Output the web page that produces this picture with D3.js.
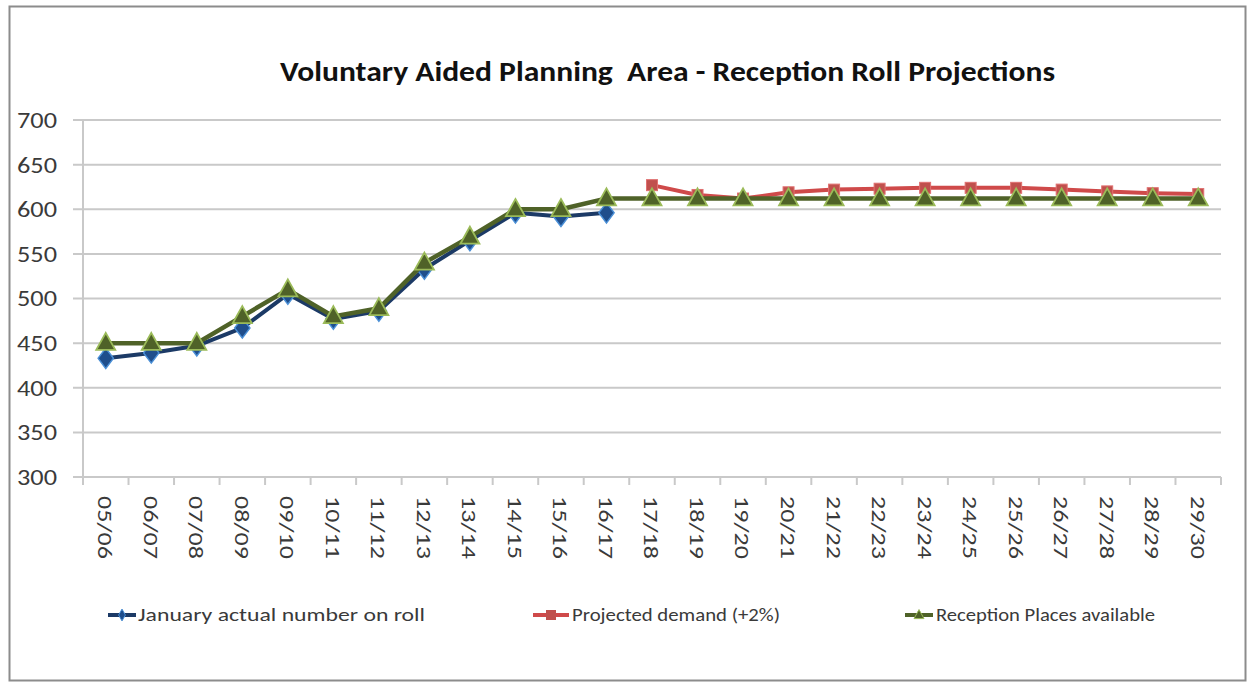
<!DOCTYPE html>
<html>
<head>
<meta charset="utf-8">
<script src="https://cdn.jsdelivr.net/npm/d3@7"></script>
<style>
  html, body { margin: 0; padding: 0; background: #fff; }
  svg { display: block; }
</style>
</head>
<body>
<svg id="chart" width="1251" height="688"></svg>
<script>
const categories = ["05/06","06/07","07/08","08/09","09/10","10/11","11/12","12/13","13/14","14/15","15/16","16/17","17/18","18/19","19/20","20/21","21/22","22/23","23/24","24/25","25/26","26/27","27/28","28/29","29/30"];
const actualRoll = [433,439,447,467,505,477,486,533,565,596,592,596,null,null,null,null,null,null,null,null,null,null,null,null,null];
const projectedDemand = [null,null,null,null,null,null,null,null,null,null,null,null,627,616,612,619,622,623,624,624,624,622,620,618,617];
const placesAvailable = [450,450,450,480,510,480,489,540,569,600,600,612,612,612,612,612,612,612,612,612,612,612,612,612,612];
const yTicks = [300,350,400,450,500,550,600,650,700];
const seriesNames = ["January actual number on roll","Projected demand (+2%)","Reception Places available"];
const titleText = "Voluntary Aided Planning  Area - Reception Roll Projections";

(function(){
const svg = d3.select("#chart");
const font = "Calibri, Carlito, 'Open Sans', Lato, sans-serif";

// outer border
svg.append("rect").attr("x",9.5).attr("y",6.5).attr("width",1236).attr("height",674)
  .attr("fill","#fff").attr("stroke","#8c8c8c").attr("stroke-width",2);

const pL = 83, pR = 1221, pT = 120, pB = 477;
const x = d3.scaleBand().domain(categories).range([pL, pR]);
const y = d3.scaleLinear().domain([300, 700]).range([pB, pT]);
const cx = d => x(d) + x.bandwidth()/2;

// gridlines
svg.append("g").selectAll("line").data(yTicks).join("line")
  .attr("x1", pL - 10).attr("x2", pR)
  .attr("y1", d => y(d)).attr("y2", d => y(d))
  .attr("stroke", "#c9c9c9").attr("stroke-width", 2);

// y axis line
svg.append("line").attr("x1",pL).attr("x2",pL).attr("y1",pT).attr("y2",pB)
  .attr("stroke","#c9c9c9").attr("stroke-width",2);

// y labels
svg.append("g").selectAll("text").data(yTicks).join("text")
  .attr("x", 57).attr("y", d => y(d)).attr("dy","0.36em")
  .attr("text-anchor","end").attr("font-family", font).attr("font-size", 22)
  .attr("textLength", 40).attr("lengthAdjust","spacingAndGlyphs")
  .attr("fill","#3a3a3a").text(d => d);

// x axis ticks
const xTickPos = categories.map(c => x(c)).concat([pR]);
svg.append("g").selectAll("line").data(xTickPos).join("line")
  .attr("x1", d => d).attr("x2", d => d).attr("y1", pB).attr("y2", pB + 8)
  .attr("stroke","#c9c9c9").attr("stroke-width",2);

// x labels rotated
svg.append("g").selectAll("text").data(categories).join("text")
  .attr("transform", d => `translate(${cx(d)},${pB + 19}) rotate(90)`)
  .attr("dy","0.36em").attr("text-anchor","start")
  .attr("font-family", font).attr("font-size", 21).attr("fill","#3a3a3a")
  .attr("textLength", 63).attr("lengthAdjust","spacingAndGlyphs")
  .text(d => d);

// title
svg.append("text").attr("x", 280).attr("y", 81).attr("text-anchor","start")
  .attr("font-family", font).attr("font-weight","bold").attr("font-size", 28)
  .attr("textLength", 775).attr("lengthAdjust","spacingAndGlyphs")
  .attr("fill","#111").attr("xml:space","preserve").style("white-space","pre").text(titleText);

const line = d3.line().defined(d => d.v != null).x(d => cx(d.c)).y(d => y(d.v));
const toPts = arr => categories.map((c,i) => ({c, v: arr[i]}));

// blue series
const blueCol = "#1c3a66";
svg.append("path").datum(toPts(actualRoll)).attr("d", line)
  .attr("fill","none").attr("stroke", blueCol).attr("stroke-width",4).attr("stroke-linejoin","round");
const diamond = d3.symbol().type(d3.symbolDiamond).size(120);
svg.append("g").selectAll("path").data(toPts(actualRoll).filter(d => d.v != null)).join("path")
  .attr("d", diamond).attr("transform", d => `translate(${cx(d.c)},${y(d.v)}) scale(1.3,1)`)
  .attr("fill", "#1f4e8c").attr("stroke","#4a8fd6").attr("stroke-width",1.2);

// red series
const redCol = "#cf4a4a";
svg.append("path").datum(toPts(projectedDemand)).attr("d", line)
  .attr("fill","none").attr("stroke", redCol).attr("stroke-width",4);
svg.append("g").selectAll("rect").data(toPts(projectedDemand).filter(d => d.v != null)).join("rect")
  .attr("x", d => cx(d.c) - 5.5).attr("y", d => y(d.v) - 5.5).attr("width",11).attr("height",11)
  .attr("fill", "#c0504d").attr("stroke","#e07070").attr("stroke-width",1);

// green series
const greenCol = "#4f6228";
svg.append("path").datum(toPts(placesAvailable)).attr("d", line)
  .attr("fill","none").attr("stroke", greenCol).attr("stroke-width",4.5);
const tri = (px, py, w, h) => `M${px},${py - h*0.6}L${px + w/2},${py + h*0.4}L${px - w/2},${py + h*0.4}Z`;
svg.append("g").selectAll("path").data(toPts(placesAvailable)).join("path")
  .attr("d", d => tri(cx(d.c), y(d.v), 19, 17))
  .attr("fill", greenCol).attr("stroke","#9bbb59").attr("stroke-width",1.8);

// legend
const legY = 615;
const legendItems = [
  {x1:108, x2:136, tx:138, w:287, col: blueCol, name: seriesNames[0], mk:"diamond"},
  {x1:533, x2:569, tx:572, w:208, col: redCol, name: seriesNames[1], mk:"square"},
  {x1:905, x2:933, tx:936, w:219, col: greenCol, name: seriesNames[2], mk:"tri"}
];
const lg = svg.append("g");
legendItems.forEach(it => {
  lg.append("line").attr("x1",it.x1).attr("x2",it.x2).attr("y1",legY).attr("y2",legY)
    .attr("stroke", it.col).attr("stroke-width",4);
  const mx = (it.x1 + it.x2)/2;
  if (it.mk === "diamond") {
    lg.append("path").attr("d", d3.symbol().type(d3.symbolDiamond).size(40)())
      .attr("transform",`translate(${mx},${legY})`).attr("fill","#1f4e8c").attr("stroke","#4a8fd6");
  } else if (it.mk === "square") {
    lg.append("rect").attr("x",mx-5).attr("y",legY-5).attr("width",10).attr("height",10).attr("fill","#c0504d");
  } else {
    lg.append("path").attr("d", tri(mx, legY, 10, 9)).attr("fill", greenCol).attr("stroke","#9bbb59");
  }
  lg.append("text").attr("x", it.tx).attr("y", legY).attr("dy","0.35em")
    .attr("font-family", font).attr("font-size", 18).attr("fill","#3a3a3a")
    .attr("textLength", it.w).attr("lengthAdjust","spacingAndGlyphs").text(it.name);
});
})();
</script>
</body>
</html>
